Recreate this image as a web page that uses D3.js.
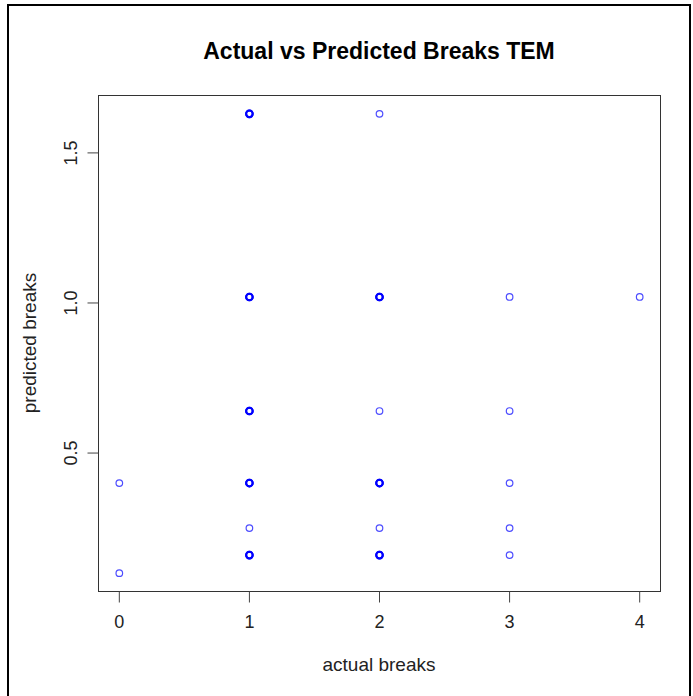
<!DOCTYPE html>
<html>
<head>
<meta charset="utf-8">
<script src="https://cdn.jsdelivr.net/npm/d3@7"></script>
<style>
  body { margin: 0; background: #fff; }
  svg text { font-family: "Liberation Sans", Arial, sans-serif; }
</style>
</head>
<body>
<svg id="chart" width="693" height="696"></svg>
<script>
// observations (duplicates = overplotted points)
const actualBreaks    = [0, 0,
                         1, 1, 1, 1, 1, 1, 1, 1, 1, 1, 1,
                         2, 2, 2, 2, 2, 2, 2, 2, 2,
                         3, 3, 3, 3, 3,
                         4]
const predictedBreaks = [0.40, 0.10,
                         1.63, 1.63, 1.02, 1.02, 0.64, 0.64, 0.40, 0.40, 0.25, 0.16, 0.16,
                         1.63, 1.02, 1.02, 0.64, 0.40, 0.40, 0.25, 0.16, 0.16,
                         1.02, 0.64, 0.40, 0.25, 0.16,
                         1.02]
const xTicks = [0, 1, 2, 3, 4]
const yTicks = [0.5, 1.0, 1.5]

const svg = d3.select("#chart")

// outer frame
svg.append("rect")
   .attr("x", 8).attr("y", 5)
   .attr("width", 682).attr("height", 700)
   .attr("fill", "none")
   .attr("stroke", "#000")
   .attr("stroke-width", 2)

const plotLeft = 98, plotRight = 660, plotTop = 95, plotBottom = 591

// R style 4% padding
const xExt = d3.extent(actualBreaks), yExt = d3.extent(predictedBreaks)
const xPad = (xExt[1] - xExt[0]) * 0.04, yPad = (yExt[1] - yExt[0]) * 0.04

const x = d3.scaleLinear().domain([xExt[0] - xPad, xExt[1] + xPad]).range([plotLeft, plotRight])
const y = d3.scaleLinear().domain([yExt[0] - yPad, yExt[1] + yPad]).range([plotBottom, plotTop])

svg.append("rect")
   .attr("x", plotLeft + 0.5).attr("y", plotTop + 0.5)
   .attr("width", plotRight - plotLeft).attr("height", plotBottom - plotTop)
   .attr("fill", "none")
   .attr("stroke", "#333")
   .attr("stroke-width", 1)

const xAxis = svg.append("g")
   .attr("transform", "translate(0," + (plotBottom + 0.5) + ")")
   .call(d3.axisBottom(x).tickValues(xTicks).tickFormat(d3.format("d"))
           .tickSizeInner(11).tickSizeOuter(0).tickPadding(13))
xAxis.select(".domain").remove()
xAxis.selectAll("line").attr("stroke", "#444")
xAxis.selectAll("text").attr("font-size", 18).attr("fill", "#222")

const yAxis = svg.append("g")
   .attr("transform", "translate(" + (plotLeft + 0.5) + ",0)")
   .call(d3.axisLeft(y).tickValues(yTicks).tickFormat(d3.format(".1f"))
           .tickSizeInner(11).tickSizeOuter(0).tickPadding(0))
yAxis.select(".domain").remove()
yAxis.selectAll("line").attr("stroke", "#444")
yAxis.selectAll("text")
     .attr("font-size", 18).attr("fill", "#222")
     .attr("x", null).attr("dy", null)
     .attr("text-anchor", "middle")
     .attr("transform", "translate(-22,0) rotate(-90)")

// count overplotted points
const counts = d3.rollup(actualBreaks.map((a, i) => [a, predictedBreaks[i]]),
                         v => v.length, d => d[0] + "_" + d[1])

svg.append("g")
   .selectAll("circle")
   .data(actualBreaks.map((a, i) => ({ a: a, p: predictedBreaks[i] })))
   .join("circle")
   .attr("cx", d => x(d.a) + 0.5)
   .attr("cy", d => y(d.p) + 0.5)
   .attr("r", 3.3)
   .attr("fill", "none")
   .attr("stroke", "#0000ff")
   .attr("stroke-opacity", d => counts.get(d.a + "_" + d.p) > 1 ? 1 : 0.7)
   .attr("stroke-width", d => counts.get(d.a + "_" + d.p) > 1 ? 2 : 1.2)

svg.append("text")
   .attr("x", (plotLeft + plotRight) / 2).attr("y", 59)
   .attr("text-anchor", "middle")
   .attr("font-size", 23).attr("font-weight", "bold")
   .text("Actual vs Predicted Breaks TEM")

svg.append("text")
   .attr("x", (plotLeft + plotRight) / 2).attr("y", 671)
   .attr("text-anchor", "middle")
   .attr("font-size", 19).attr("fill", "#222")
   .text("actual breaks")

svg.append("text")
   .attr("transform", "translate(36," + (plotTop + plotBottom) / 2 + ") rotate(-90)")
   .attr("text-anchor", "middle")
   .attr("font-size", 19).attr("fill", "#222")
   .text("predicted breaks")
</script>
</body>
</html>
